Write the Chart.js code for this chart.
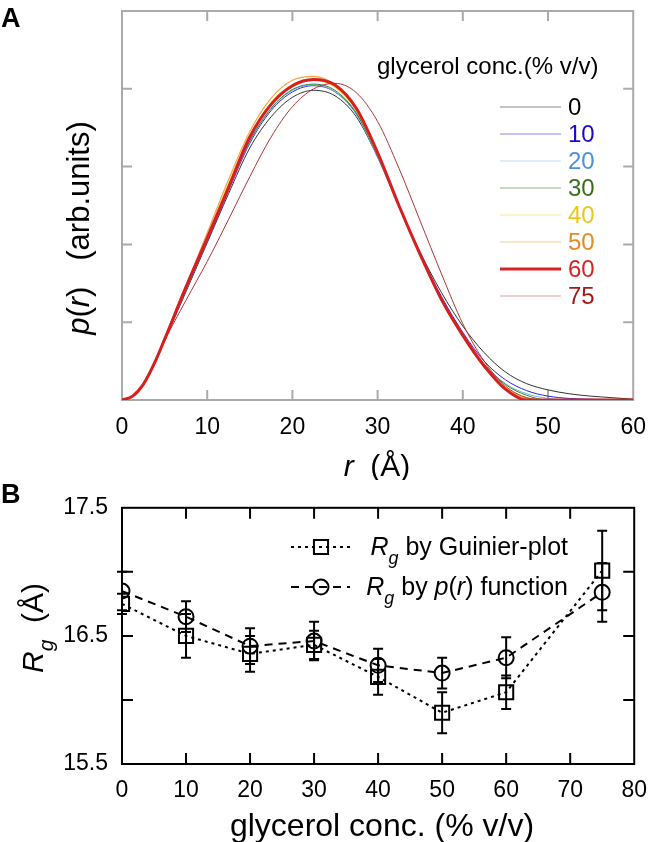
<!DOCTYPE html>
<html>
<head>
<meta charset="utf-8">
<script src="https://cdn.jsdelivr.net/npm/chart.js@4.4.1/dist/chart.umd.min.js"></script>
<style>
  body { margin: 0; background: #fff; }
  #wrap { position: relative; width: 660px; height: 842px; }
  canvas { position: absolute; left: 0; }
  #chart-a { top: 0; }
  #chart-b { top: 480px; }
</style>
</head>
<body>
<div id="wrap">
  <canvas id="chart-a" width="660" height="480"></canvas>
  <canvas id="chart-b" width="660" height="362"></canvas>
</div>
<script>
// ---- panel A : p(r) curves ----
const radius = [0, 1.25, 2.5, 3.75, 5, 7.5, 10, 12.5, 15, 17.5, 20, 22.5, 25, 27.5, 30,
  32.5, 35, 37.5, 40, 42.5, 45, 47.5, 50, 52.5, 55, 57.5, 60];
const concLabels = ["0", "10", "20", "30", "40", "50", "60", "75"];
const pr0 = [0, 0.05, 0.19, 0.44, 0.76, 1.39, 2.02, 2.65, 3.24, 3.64, 3.89, 3.98, 3.91, 3.64, 3.12,
  2.50, 1.90, 1.38, 0.95, 0.61, 0.36, 0.21, 0.13, 0.08, 0.05, 0.03, 0.01];
const pr10 = [0, 0.05, 0.20, 0.45, 0.77, 1.40, 2.04, 2.69, 3.30, 3.72, 3.96, 4.04, 3.96, 3.68, 3.14,
  2.50, 1.88, 1.33, 0.87, 0.50, 0.26, 0.12, 0.05, 0.02, 0.01, 0.005, 0];
const pr20 = [0, 0.05, 0.20, 0.45, 0.77, 1.41, 2.05, 2.71, 3.32, 3.74, 3.98, 4.05, 3.96, 3.67, 3.12,
  2.48, 1.85, 1.30, 0.84, 0.46, 0.21, 0.08, 0.02, 0, 0, 0, 0];
const pr30 = [0, 0.05, 0.20, 0.45, 0.77, 1.41, 2.06, 2.72, 3.33, 3.75, 3.99, 4.06, 3.98, 3.69, 3.14,
  2.49, 1.86, 1.30, 0.84, 0.46, 0.20, 0.06, 0, 0, 0, 0, 0];
const pr40 = [0, 0.05, 0.20, 0.46, 0.79, 1.44, 2.11, 2.78, 3.40, 3.82, 4.05, 4.11, 4.02, 3.72, 3.16,
  2.50, 1.86, 1.29, 0.82, 0.43, 0.16, 0.02, 0, 0, 0, 0, 0];
const pr50 = [0, 0.05, 0.21, 0.47, 0.80, 1.47, 2.15, 2.83, 3.45, 3.88, 4.11, 4.16, 4.05, 3.74, 3.17,
  2.51, 1.86, 1.28, 0.81, 0.42, 0.15, 0.02, 0, 0, 0, 0, 0];
const pr60 = [0, 0.05, 0.20, 0.46, 0.78, 1.45, 2.08, 2.73, 3.38, 3.80, 4.04, 4.12, 4.05, 3.75, 3.18,
  2.50, 1.87, 1.29, 0.83, 0.44, 0.14, 0, 0, 0, 0, 0, 0];
const pr75 = [0, 0.05, 0.20, 0.45, 0.76, 1.28, 1.78, 2.32, 2.87, 3.38, 3.77, 4.00, 4.07, 3.95, 3.58,
  2.98, 2.30, 1.62, 0.98, 0.50, 0.18, 0.03, 0, 0, 0, 0, 0];

// ---- panel B : Rg ----
const glycerol = [0, 10, 20, 30, 40, 50, 60, 75];
const rgGuinier = [16.75, 16.50, 16.36, 16.43, 16.18, 15.90, 16.06, 17.01];
const rgGuinierErr = [0.08, 0.17, 0.14, 0.11, 0.14, 0.16, 0.13, 0.31];
const rgPr = [16.85, 16.65, 16.42, 16.46, 16.27, 16.21, 16.33, 16.84];
const rgPrErr = [0.15, 0.12, 0.14, 0.15, 0.13, 0.12, 0.16, 0.23];

const FONT = '"Liberation Sans", Arial, Helvetica, sans-serif';
Chart.defaults.font.family = FONT;
Chart.defaults.color = "#000";

const curveStyles = [
  { line: "#333333", text: "#000000", width: 1, key: "#8a8a8a" },
  { line: "#2f22e0", text: "#1a0acc", width: 1, key: "#8f86f0" },
  { line: "#6fb0ea", text: "#4a90e0", width: 1, key: "#bcdcf4" },
  { line: "#2c8a2c", text: "#3a6e1a", width: 1, key: "#8fb88a" },
  { line: "#f2d22a", text: "#e8c81e", width: 1.2, key: "#f6e9a0" },
  { line: "#f2a648", text: "#e08a28", width: 1.2, key: "#f4cc96" },
  { line: "#d81e1e", text: "#d42424", width: 3, key: "#d42424" },
  { line: "#b03636", text: "#a01a1a", width: 1, key: "#e0a0a0" },
];
const prSeries = [pr0, pr10, pr20, pr30, pr40, pr50, pr60, pr75];
const drawOrder = [7, 6, 5, 4, 3, 2, 0, 1];

// text with italic / subscript pieces: parts = [[text, italic, sub], ...]
function richText(ctx, parts, x, y, size, opts = {}) {
  ctx.save();
  ctx.translate(x, y);
  if (opts.rotate) ctx.rotate(opts.rotate);
  ctx.textBaseline = "alphabetic";
  ctx.textAlign = "left";
  ctx.fillStyle = opts.color || "#000";
  const fontOf = (p) =>
    `${p[1] ? "italic " : ""}${p[2] ? Math.round(size * 0.7) : size}px ${FONT}`;
  let total = 0;
  const widths = parts.map((p) => {
    ctx.font = fontOf(p);
    const w = ctx.measureText(p[0]).width;
    total += w;
    return w;
  });
  let cx = opts.align === "center" ? -total / 2 : opts.align === "right" ? -total : 0;
  parts.forEach((p, i) => {
    ctx.font = fontOf(p);
    ctx.fillText(p[0], cx, p[2] ? size * 0.34 : 0);
    cx += widths[i];
  });
  ctx.restore();
}

// box round the plot area, ticks pointing inwards on all four sides
const framePlugin = {
  id: "frame",
  beforeDatasetsDraw(chart, args, opts) {
    const { ctx, chartArea: a, scales } = chart;
    const len = opts.tickLength;
    ctx.save();
    ctx.strokeStyle = opts.color;
    ctx.lineWidth = opts.width;
    ctx.strokeRect(a.left, a.top, a.right - a.left, a.bottom - a.top);
    ctx.beginPath();
    scales.x.ticks.forEach((t) => {
      const px = scales.x.getPixelForValue(t.value);
      if (px - a.left < 1 || a.right - px < 1) return;
      ctx.moveTo(px, a.bottom);
      ctx.lineTo(px, a.bottom - len);
      ctx.moveTo(px, a.top);
      ctx.lineTo(px, a.top + len);
    });
    scales.y.ticks.forEach((t) => {
      const py = scales.y.getPixelForValue(t.value);
      if (py - a.top < 1 || a.bottom - py < 1) return;
      ctx.moveTo(a.left, py);
      ctx.lineTo(a.left + len, py);
      ctx.moveTo(a.right, py);
      ctx.lineTo(a.right - len, py);
    });
    ctx.stroke();
    ctx.restore();
  },
};

const labelsA = {
  id: "labelsA",
  afterDraw(chart) {
    const ctx = chart.ctx;
    ctx.save();
    ctx.font = `bold 27px ${FONT}`;
    ctx.fillStyle = "#000";
    ctx.fillText("A", 1, 27);
    ctx.restore();
    richText(ctx, [["p", true], ["("], ["r", true], [")   (arb.units)"]], 89, 228, 31,
      { rotate: -Math.PI / 2, align: "center" });
    richText(ctx, [["r", true], ["  (Å)"]], 377, 476, 30, { align: "center" });
    // legend
    richText(ctx, [["glycerol conc.(% v/v)"]], 377, 74, 24);
    concLabels.forEach((lab, i) => {
      const base = 115 + i * 27;
      const st = curveStyles[i];
      ctx.save();
      ctx.strokeStyle = st.key;
      ctx.lineWidth = i === 6 ? 3 : 1.2;
      ctx.beginPath();
      ctx.moveTo(500, base - 8);
      ctx.lineTo(561, base - 8);
      ctx.stroke();
      ctx.restore();
      richText(ctx, [[lab]], 568, base, 24, { color: st.text });
    });
  },
};

new Chart(document.getElementById("chart-a"), {
  type: "line",
  data: {
    datasets: prSeries.map((s, i) => ({
      label: concLabels[i],
      data: radius.map((r, j) => ({ x: r, y: s[j] })),
      borderColor: curveStyles[i].line,
      borderWidth: curveStyles[i].width,
      pointRadius: 0,
      cubicInterpolationMode: "monotone",
      fill: false,
      order: drawOrder[i],
    })),
  },
  options: {
    responsive: false,
    animation: false,
    events: [],
    layout: { padding: { top: 11, right: 19, left: 0, bottom: 0 } },
    plugins: {
      legend: { display: false },
      tooltip: { enabled: false },
      frame: { color: "#aaaaaa", width: 2, tickLength: 10 },
    },
    scales: {
      x: {
        type: "linear",
        min: 0,
        max: 60,
        ticks: { stepSize: 10, font: { size: 23 }, color: "#000", padding: 14 },
        grid: { display: false, drawTicks: false },
        border: { display: false },
        afterFit: (s) => { s.height = 80; },
      },
      y: {
        min: 0,
        max: 5,
        ticks: { stepSize: 1, display: false },
        grid: { display: false, drawTicks: false },
        border: { display: false },
        afterFit: (s) => { s.width = 122; },
      },
    },
  },
  plugins: [framePlugin, labelsA],
});

// ---- panel B ----
const errorBars = {
  id: "errorBars",
  afterDatasetsDraw(chart) {
    const { ctx, scales } = chart;
    ctx.save();
    ctx.strokeStyle = "#000";
    ctx.lineWidth = 2;
    chart.data.datasets.forEach((ds) => {
      ds.data.forEach((p, j) => {
        const px = scales.x.getPixelForValue(p.x);
        const top = scales.y.getPixelForValue(p.y + ds.errors[j]);
        const bot = scales.y.getPixelForValue(p.y - ds.errors[j]);
        ctx.beginPath();
        ctx.moveTo(px, top);
        ctx.lineTo(px, bot);
        ctx.moveTo(px - 5, top);
        ctx.lineTo(px + 5, top);
        ctx.moveTo(px - 5, bot);
        ctx.lineTo(px + 5, bot);
        ctx.stroke();
      });
    });
    ctx.restore();
  },
};

const labelsB = {
  id: "labelsB",
  afterDraw(chart) {
    const ctx = chart.ctx;
    ctx.save();
    ctx.font = `bold 27px ${FONT}`;
    ctx.fillStyle = "#000";
    ctx.fillText("B", 1, 23);
    ctx.restore();
    richText(ctx, [["R", true], ["g", true, true], ["  (Å)"]], 43, 148, 30,
      { rotate: -Math.PI / 2, align: "center" });
    richText(ctx, [["glycerol conc. (% v/v)"]], 382, 356, 32, { align: "center" });
    // legend
    const rows = [
      { y: 67, dash: [3, 4], style: "rect", radius: 10,
        text: [["R", true], ["g", true, true], [" by Guinier-plot"]] },
      { y: 107, dash: [8, 6], style: "circle", radius: 7.5,
        text: [["R", true], ["g", true, true], [" by "], ["p", true], ["("], ["r", true], [") function"]] },
    ];
    rows.forEach((row) => {
      ctx.save();
      ctx.strokeStyle = "#000";
      ctx.fillStyle = "rgba(0,0,0,0)";
      ctx.lineWidth = 2;
      ctx.setLineDash(row.dash);
      ctx.beginPath();
      ctx.moveTo(291, row.y);
      ctx.lineTo(350, row.y);
      ctx.stroke();
      ctx.setLineDash([]);
      Chart.helpers.drawPoint(ctx, { pointStyle: row.style, radius: row.radius, borderWidth: 2 }, 321, row.y);
      ctx.restore();
      richText(ctx, row.text, 568, row.y + 8, 25, { align: "right" });
    });
  },
};

new Chart(document.getElementById("chart-b"), {
  type: "line",
  data: {
    datasets: [
      {
        label: "Rg by Guinier-plot",
        data: glycerol.map((c, i) => ({ x: c, y: rgGuinier[i] })),
        errors: rgGuinierErr,
        borderColor: "#000",
        borderWidth: 2,
        borderDash: [3, 4],
        pointStyle: "rect",
        pointRadius: 10,
        pointBorderWidth: 2,
        pointBorderColor: "#000",
        pointBackgroundColor: "rgba(0,0,0,0)",
        tension: 0,
      },
      {
        label: "Rg by p(r) function",
        data: glycerol.map((c, i) => ({ x: c, y: rgPr[i] })),
        errors: rgPrErr,
        borderColor: "#000",
        borderWidth: 2,
        borderDash: [8, 6],
        pointStyle: "circle",
        pointRadius: 7.5,
        pointBorderWidth: 2,
        pointBorderColor: "#000",
        pointBackgroundColor: "rgba(0,0,0,0)",
        tension: 0,
      },
    ],
  },
  options: {
    responsive: false,
    animation: false,
    events: [],
    layout: { padding: { top: 24, right: 18, left: 0, bottom: 0 } },
    plugins: {
      legend: { display: false },
      tooltip: { enabled: false },
      frame: { color: "#000", width: 2, tickLength: 11 },
    },
    scales: {
      x: {
        type: "linear",
        min: 0,
        max: 80,
        ticks: { stepSize: 10, font: { size: 23 }, color: "#000", padding: 13 },
        grid: { display: false, drawTicks: false },
        border: { display: false },
        afterFit: (s) => { s.height = 78; },
      },
      y: {
        min: 15.5,
        max: 17.5,
        ticks: {
          stepSize: 0.5,
          font: { size: 23 },
          color: "#000",
          padding: 14,
          callback: (v) => (Math.abs(v % 1 - 0.5) < 1e-6 ? v.toFixed(1) : ""),
        },
        grid: { display: false, drawTicks: false },
        border: { display: false },
        afterFit: (s) => { s.width = 122; },
      },
    },
  },
  plugins: [framePlugin, errorBars, labelsB],
});
</script>
</body>
</html>
